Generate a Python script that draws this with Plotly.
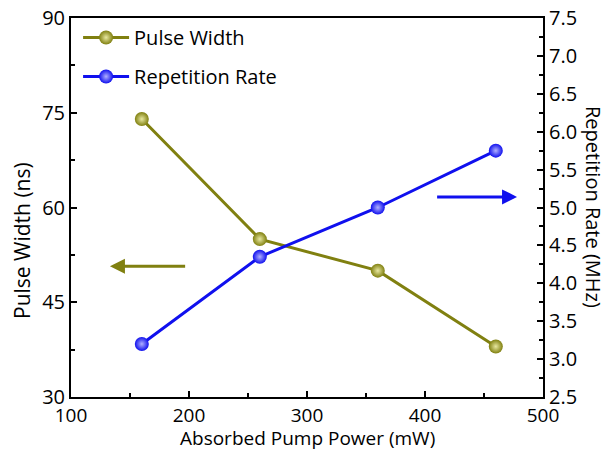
import plotly.graph_objects as go

power = [160, 260, 360, 460]
pulse_width = [74, 55, 50, 38]
rep_rate = [3.2, 4.35, 5.0, 5.75]

olive = "#808010"
blue = "#1010ee"
FONT = "Open Sans"

fig = go.Figure()
fig.add_trace(go.Scatter(
    x=power, y=pulse_width, name="Pulse Width", mode="lines+markers",
    legendgroup="a",
    line=dict(color=olive, width=3),
    marker=dict(size=14, color=olive, gradient=dict(type="radial", color="#e8e8a0")),
    yaxis="y"))
fig.add_trace(go.Scatter(
    x=power, y=rep_rate, name="Repetition Rate", mode="lines+markers",
    legendgroup="b",
    line=dict(color=blue, width=3),
    marker=dict(size=14, color=blue, gradient=dict(type="radial", color="#b0b0ff")),
    yaxis="y2"))

axis_common = dict(showline=True, linecolor="black", linewidth=2, ticks="inside",
                   ticklen=6, tickwidth=2, tickcolor="black", showgrid=False,
                   zeroline=False, automargin=False)
tick_font = dict(size=20, color="black", family=FONT)

fig.update_layout(
    width=610, height=452,
    margin=dict(l=71, r=67, t=18, b=55),
    paper_bgcolor="white", plot_bgcolor="white",
    font=dict(family=FONT, color="black"),
    showlegend=True,
    legend=dict(x=0.015, y=1.0, xanchor="left", yanchor="top",
                font=dict(size=20, family=FONT, color="black"),
                bgcolor="rgba(0,0,0,0)", itemwidth=46, tracegroupgap=10),
    xaxis=dict(range=[100, 500], dtick=100, mirror=True, ticklabelstandoff=0,
               tickfont=dict(size=19, color="black", family=FONT),
               minor=dict(dtick=50, ticks="inside", ticklen=4, tickwidth=2, tickcolor="black"),
               **axis_common),
    yaxis=dict(range=[30, 90], dtick=15, tickfont=tick_font,
               minor=dict(dtick=7.5, ticks="inside", ticklen=4, tickwidth=2, tickcolor="black"),
               **axis_common),
    yaxis2=dict(range=[2.5, 7.5], dtick=0.5, tickformat=".1f", overlaying="y", side="right",
                tickfont=tick_font,
                minor=dict(dtick=0.25, ticks="inside", ticklen=4, tickwidth=2, tickcolor="black"),
                **axis_common),
)

fig.add_annotation(text="Absorbed Pump Power (mW)", xref="paper", yref="paper",
                   x=0.5, y=-0.1451, xanchor="center", yanchor="bottom", showarrow=False,
                   borderpad=0, font=dict(size=19, family=FONT, color="black"))
fig.add_annotation(text="Pulse Width (ns)", xref="paper", yref="paper",
                   x=-0.104, y=0.414, xanchor="center", yanchor="middle", textangle=-90,
                   showarrow=False, font=dict(size=21, family=FONT, color="black"))
fig.add_annotation(text="Repetition Rate (MHz)", xref="paper", yref="paper",
                   x=1.1398, y=0.5, xanchor="right", yanchor="middle", textangle=90,
                   showarrow=False, font=dict(size=20, family=FONT, color="black"))

fig.add_annotation(x=133, y=50.7, ax=198, ay=50.7, xref="x", yref="y", axref="x", ayref="y",
                   showarrow=True, arrowhead=2, arrowsize=1, arrowwidth=3, arrowcolor=olive, text="")
fig.add_annotation(x=478, y=5.14, ax=409, ay=5.14, xref="x", yref="y2", axref="x", ayref="y2",
                   showarrow=True, arrowhead=2, arrowsize=1, arrowwidth=3, arrowcolor=blue, text="")

fig.write_html("out.html", config={"displayModeBar": False},
               post_script="document.body.style.margin='0px';document.body.style.overflow='hidden';")
